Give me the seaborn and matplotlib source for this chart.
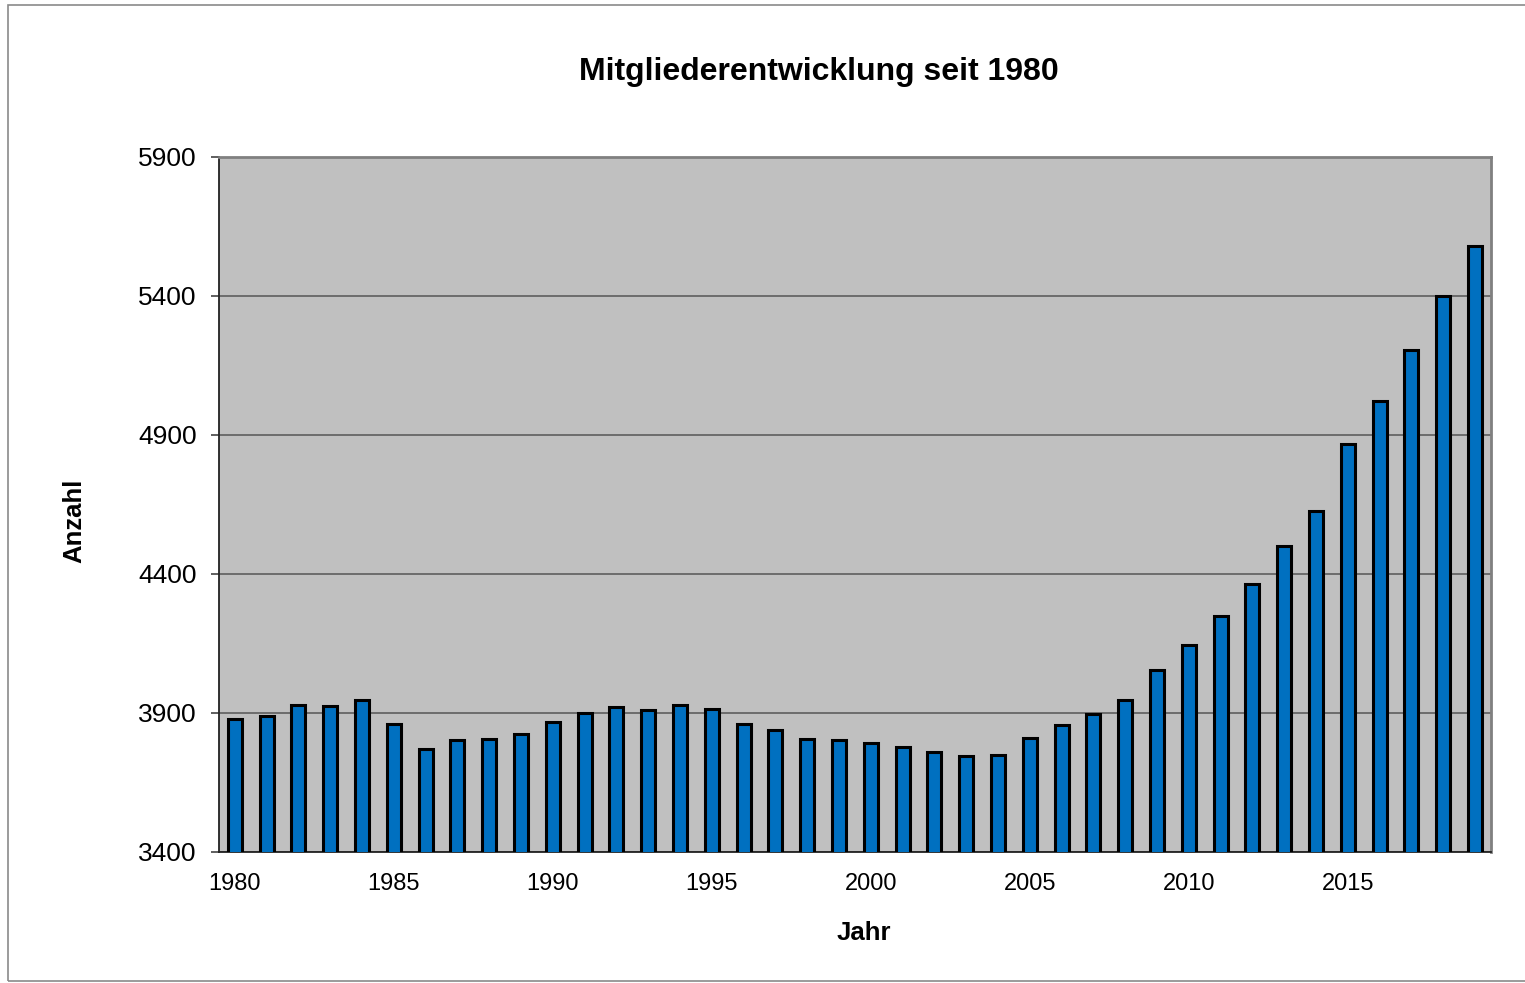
import numpy as np
import pandas as pd
import matplotlib
matplotlib.use("Agg")
import matplotlib.pyplot as plt
import seaborn as sns
from matplotlib.patches import Rectangle

# Mitgliederzahlen pro Jahr
years = list(range(1980, 2020))
members = [3878, 3888, 3930, 3926, 3947, 3859, 3771, 3801, 3806, 3823,
           3866, 3901, 3920, 3912, 3930, 3914, 3862, 3837, 3805, 3801,
           3792, 3779, 3761, 3745, 3748, 3811, 3855, 3896, 3945, 4053,
           4143, 4248, 4363, 4501, 4627, 4867, 5022, 5207, 5400, 5581]
y_ticks = [3400, 3900, 4400, 4900, 5400, 5900]
x_label_years = [1980, 1985, 1990, 1995, 2000, 2005, 2010, 2015]

df = pd.DataFrame({"Jahr": [str(y) for y in years], "Anzahl": members})

sns.set_style("white")
plt.rcParams["font.family"] = ["Liberation Sans", "DejaVu Sans"]
plt.rcParams["text.color"] = "black"
plt.rcParams["axes.labelcolor"] = "black"
plt.rcParams["xtick.color"] = "black"
plt.rcParams["ytick.color"] = "black"

fig = plt.figure(figsize=(15.25, 9.83), dpi=100)
ax = fig.add_axes([0.1436, 0.1333, 0.8341, 0.7070])
ax.set_facecolor("#C0C0C0")

sns.barplot(data=df, x="Jahr", y="Anzahl", color="#0070C0", saturation=1,
            edgecolor="black", linewidth=2.2, width=0.44, ax=ax, zorder=3)

ax.set_ylim(3400, 5900)
ax.set_xlim(-0.5, len(years) - 0.5)
ax.set_yticks(y_ticks)
ax.set_yticklabels([str(v) for v in y_ticks], fontsize=19)
ax.yaxis.grid(True, color="#555555", linewidth=1.1, zorder=1)
ax.set_axisbelow(True)

# Beschriftung alle 5 Jahre, Striche an den Kategoriegrenzen
label_pos = [years.index(y) for y in x_label_years]
ax.set_xticks(label_pos)
ax.set_xticklabels([str(y) for y in x_label_years], fontsize=17)
ax.tick_params(axis="x", which="major", length=0, pad=15)
ax.set_xticks(np.arange(-0.5, len(years)), minor=True)
ax.tick_params(axis="x", which="minor", length=7, width=1.2, color="#444444")
ax.tick_params(axis="y", length=6, width=1.2, color="#444444", left=True, pad=10)

for side in ["left", "bottom"]:
    ax.spines[side].set_color("#222222")
    ax.spines[side].set_linewidth(1.3)
for side in ["top", "right"]:
    ax.spines[side].set_color("#808080")
    ax.spines[side].set_linewidth(2)

ax.set_xlabel("Jahr", fontsize=18.5, fontweight="bold")
ax.xaxis.set_label_coords(0.507, -0.099)
ax.set_ylabel("Anzahl", fontsize=18.5, fontweight="bold")
ax.yaxis.set_label_coords(-0.104, 0.476)
fig.text(0.537, 0.927, "Mitgliederentwicklung seit 1980", fontsize=23,
         fontweight="bold", ha="center", va="center")

# Rahmen um das Diagramm
fig.patches.append(Rectangle((0.0052, 0.002), 1.0, 0.9925, transform=fig.transFigure,
                             fill=False, edgecolor="#8a8a8a", linewidth=1.2))

fig.savefig("out.png", dpi=100)
